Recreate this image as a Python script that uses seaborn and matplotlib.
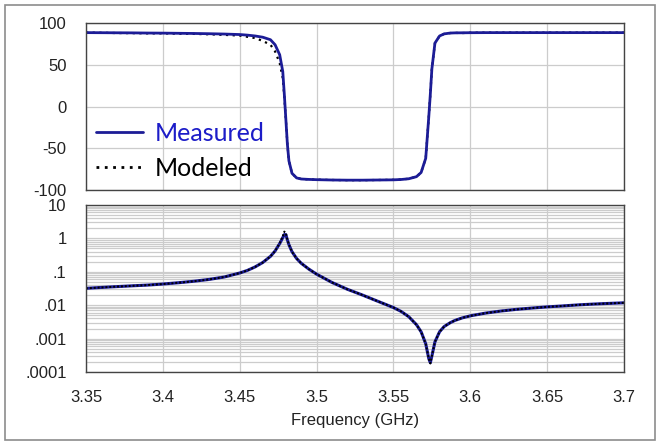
import numpy as np
import pandas as pd
import matplotlib
matplotlib.use("Agg")
import matplotlib.pyplot as plt
from matplotlib.lines import Line2D
from matplotlib.patches import Rectangle
from matplotlib.ticker import FixedLocator, LogLocator, NullFormatter
import seaborn as sns

# ── Data (frequency in GHz) ───────────────────────────────────────────────────
freq = [3.35, 3.36, 3.37, 3.38, 3.39, 3.40, 3.41, 3.42, 3.43, 3.44,
        3.45, 3.455, 3.46, 3.465, 3.47, 3.473, 3.476, 3.478, 3.479, 3.480,
        3.481, 3.482, 3.484, 3.487, 3.49, 3.495, 3.50, 3.51, 3.52, 3.53,
        3.54, 3.55, 3.555, 3.56, 3.565, 3.568, 3.571, 3.573, 3.574, 3.575,
        3.577, 3.58, 3.583, 3.587, 3.59, 3.595, 3.60, 3.61, 3.62, 3.63,
        3.64, 3.65, 3.66, 3.67, 3.68, 3.69, 3.70]

phase_meas = [88.5, 88.4, 88.3, 88.2, 88.0, 87.9, 87.7, 87.5, 87.2, 86.8,
              86.2, 85.5, 84.5, 83.0, 80.0, 74.0, 62.0, 42.0, 15.0, -15.0,
              -45.0, -65.0, -80.0, -85.5, -86.8, -87.3, -87.6, -88.0, -88.2, -88.2,
              -88.0, -87.8, -87.4, -86.5, -84.0, -79.0, -62.0, -12.0, 15.0, 45.0,
              76.0, 84.5, 87.0, 88.0, 88.2, 88.3, 88.4, 88.5, 88.5, 88.5,
              88.5, 88.5, 88.5, 88.5, 88.5, 88.5, 88.5]

phase_model = [88.5, 88.3, 88.0, 87.9, 87.6, 87.6, 87.2, 87.0, 86.5, 85.8,
               85.0, 83.5, 82.0, 78.5, 74.0, 66.0, 52.0, 34.0, 12.0, -15.0,
               -45.0, -65.0, -80.0, -85.5, -86.8, -87.3, -87.6, -88.0, -88.2, -88.2,
               -88.0, -87.8, -87.4, -86.5, -84.0, -79.0, -62.0, -12.0, 15.0, 45.0,
               76.0, 84.5, 87.0, 88.0, 88.2, 88.0, 88.4, 88.5, 88.5, 88.5,
               88.5, 88.5, 88.5, 88.5, 88.5, 88.5, 88.5]

mag_meas = [0.032, 0.034, 0.036, 0.038, 0.040, 0.043, 0.047, 0.052, 0.059, 0.070,
            0.092, 0.11, 0.14, 0.19, 0.29, 0.42, 0.70, 1.05, 1.30, 1.30,
            0.90, 0.65, 0.40, 0.25, 0.18, 0.12, 0.085, 0.048, 0.030, 0.020,
            0.013, 0.0085, 0.0065, 0.0045, 0.0026, 0.0016, 0.0007, 0.00025, 0.00019, 0.0003,
            0.0008, 0.0016, 0.0023, 0.0030, 0.0035, 0.0042, 0.0048, 0.0058, 0.0067, 0.0075,
            0.0082, 0.0089, 0.0095, 0.0102, 0.0108, 0.0113, 0.0118]

mag_model = [0.032, 0.034, 0.036, 0.038, 0.040, 0.043, 0.047, 0.052, 0.059, 0.070,
             0.092, 0.11, 0.14, 0.19, 0.29, 0.42, 0.72, 1.15, 1.60, 1.45,
             0.92, 0.65, 0.40, 0.25, 0.18, 0.12, 0.085, 0.048, 0.030, 0.020,
             0.013, 0.0085, 0.0065, 0.0045, 0.0026, 0.0016, 0.0007, 0.00025, 0.00018, 0.0003,
             0.0008, 0.0016, 0.0023, 0.0030, 0.0035, 0.0042, 0.0048, 0.0058, 0.0067, 0.0075,
             0.0082, 0.0089, 0.0095, 0.0102, 0.0108, 0.0113, 0.0118]

x_ticks = [3.35, 3.4, 3.45, 3.5, 3.55, 3.6, 3.65, 3.7]
x_labels = ["3.35", "3.4", "3.45", "3.5", "3.55", "3.6", "3.65", "3.7"]
phase_ticks = [-100, -50, 0, 50, 100]
mag_ticks = [1e-4, 1e-3, 1e-2, 1e-1, 1, 10]
mag_labels = [".0001", ".001", ".01", ".1", "1", "10"]

df = pd.DataFrame({"freq": freq, "phase_meas": phase_meas, "phase_model": phase_model,
                   "mag_meas": mag_meas, "mag_model": mag_model})

# ── Style ─────────────────────────────────────────────────────────────────────
sns.set_style("white")
plt.rcParams["font.family"] = ["Liberation Sans", "DejaVu Sans"]
plt.rcParams["axes.unicode_minus"] = False

NAVY = "#1c1c96"
GRID = "#cccccc"
TXT = "#222222"

fig = plt.figure(figsize=(6.6, 4.47), dpi=100)
fig.patches.append(Rectangle((5 / 660, 1 - 440 / 447), 650 / 660, 435 / 447,
                             transform=fig.transFigure, fill=False,
                             edgecolor="#8c8c8c", linewidth=1.2))

ax1 = fig.add_axes([0.1303, 0.5749, 0.8152, 0.3736])
ax2 = fig.add_axes([0.1303, 0.1678, 0.8152, 0.3736])

# ── Top: phase ────────────────────────────────────────────────────────────────
sns.lineplot(data=df, x="freq", y="phase_model", ax=ax1, color="black",
             linestyle=(0, (1, 2)), linewidth=1.6)
sns.lineplot(data=df, x="freq", y="phase_meas", ax=ax1, color=NAVY, linewidth=2.0)
ax1.set_xlim(3.35, 3.7)
ax1.set_ylim(-100, 100)
ax1.set_yticks(phase_ticks)
ax1.set_xticks(x_ticks)
ax1.set_xticklabels([])
ax1.grid(True, color=GRID, linewidth=0.9)

# ── Bottom: magnitude (log) ───────────────────────────────────────────────────
sns.lineplot(data=df, x="freq", y="mag_meas", ax=ax2, color=NAVY, linewidth=2.2)
sns.lineplot(data=df, x="freq", y="mag_model", ax=ax2, color="black",
             linestyle=(0, (1, 1)), linewidth=1.4)
ax2.set_yscale("log")
ax2.set_xlim(3.35, 3.7)
ax2.set_ylim(1e-4, 10)
ax2.yaxis.set_major_locator(FixedLocator(mag_ticks))
ax2.set_yticklabels(mag_labels)
ax2.yaxis.set_minor_locator(LogLocator(base=10, subs=np.arange(2, 10)))
ax2.yaxis.set_minor_formatter(NullFormatter())
ax2.set_xticks(x_ticks)
ax2.set_xticklabels(x_labels)
ax2.grid(True, which="major", color=GRID, linewidth=0.9)
ax2.grid(True, which="minor", axis="y", color=GRID, linewidth=0.9)

for ax in (ax1, ax2):
    ax.set_xlabel("")
    ax.set_ylabel("")
    ax.set_axisbelow(True)
    ax.tick_params(axis="both", which="both", length=0, labelsize=12,
                   colors=TXT)
    ax.tick_params(axis="y", pad=14)
    ax.tick_params(axis="x", pad=13)
    for s in ax.spines.values():
        s.set_color("#444444")
        s.set_linewidth(1.0)

ax2.set_xlabel("Frequency (GHz)", fontsize=12, color=TXT, labelpad=6)

# ── Legend ────────────────────────────────────────────────────────────────────
handles = [Line2D([0], [0], color=NAVY, linewidth=2),
           Line2D([0], [0], color="black", linestyle=(0, (1, 2)), linewidth=2)]
leg = ax1.legend(handles, ["Measured", "Modeled"], loc="lower left",
                 bbox_to_anchor=(-0.024, -0.076), frameon=False,
                 prop={"family": "Lato", "size": 18},
                 handlelength=1.9, handletextpad=0.45, labelspacing=0.5)
leg.get_texts()[0].set_color("#1c1cc8")
leg.get_texts()[1].set_color("black")

fig.savefig("out.png", dpi=100)
